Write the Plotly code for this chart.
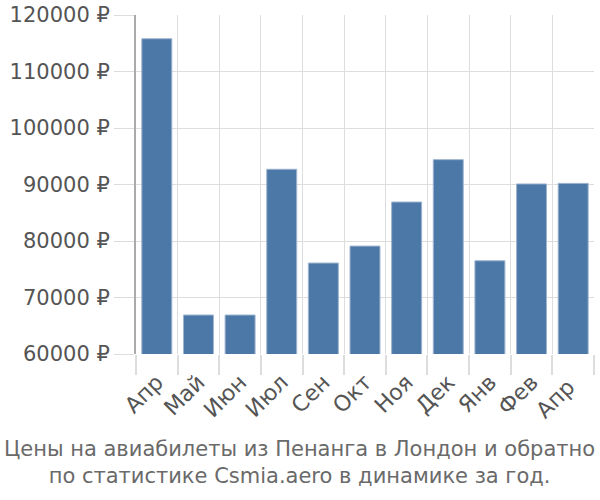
import plotly.graph_objects as go

months = ["Апр", "Май", "Июн", "Июл", "Сен", "Окт", "Ноя", "Дек", "Янв", "Фев", "Апр "]
prices = [115800, 66900, 66900, 92700, 76100, 79100, 86900, 94400, 76500, 90100, 90200]
yticks = [60000, 70000, 80000, 90000, 100000, 110000, 120000]
ytick_labels = [f"{v} ₽" for v in yticks]
title_lines = ["Цены на авиабилеты из Пенанга в Лондон и обратно",
               "по статистике Csmia.aero в динамике за год."]

FONT = "DejaVu Sans"
fig = go.Figure(go.Bar(
    x=list(range(len(months))), y=prices,
    marker=dict(color="#4c78a8", line=dict(color="#9fb4cf", width=1)),
))
fig.update_layout(
    width=600, height=500,
    margin=dict(l=136, r=6, t=15, b=146),
    paper_bgcolor="white", plot_bgcolor="white",
    bargap=0.28, showlegend=False,
    font=dict(family=FONT, color="#555555"),
    annotations=[dict(text="<br>".join(title_lines), x=0.358, xref="paper", xanchor="center",
                      y=-0.24, yref="paper", yanchor="top", showarrow=False,
                      font=dict(family=FONT, size=21, color="#6a6a6a"), align="center")],
)
fig.update_xaxes(
    type="linear", tickmode="array", tickvals=list(range(len(months))), ticktext=months,
    range=[-0.5, len(months) - 0.5], automargin=False,
    tickangle=-45, tickfont=dict(family=FONT, size=22, color="#555555"),
    showgrid=False, ticks="", ticklabelstandoff=10,
    minor=dict(tickmode="linear", tick0=-0.5, dtick=1, ticks="outside", ticklen=20,
               tickcolor="#dddddd", tickwidth=2, showgrid=True, gridcolor="#dddddd", gridwidth=1),
    showline=False, zeroline=False,
)
fig.update_yaxes(
    range=[60000, 120000], tickmode="array", tickvals=yticks, ticktext=ytick_labels,
    automargin=False,
    tickfont=dict(family=FONT, size=21, color="#555555"),
    showgrid=True, gridcolor="#dddddd", gridwidth=1,
    ticks="outside", ticklen=20, tickcolor="#dddddd",
    showline=True, linecolor="#aaaaaa", linewidth=2, zeroline=False,
)
fig.write_html("out.html")
